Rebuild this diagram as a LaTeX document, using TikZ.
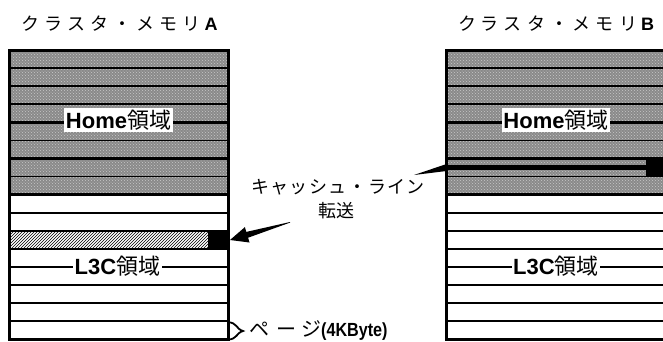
\documentclass[tikz,border=0pt]{standalone}
\usepackage{fontspec}
\setmainfont{Liberation Sans}
\newfontfamily\jp{Noto Sans CJK JP}
\usetikzlibrary{patterns}
\definecolor{shadegray}{RGB}{138,138,138}
\definecolor{dotgray}{RGB}{200,200,200}
\begin{document}
\begin{tikzpicture}[x=1pt,y=-1pt,
  thickrow/.style={line width=2.4pt},
  thinrow/.style={line width=1.6pt},
  frameline/.style={line width=3pt},
  area/.style={fill=white, inner xsep=1.5pt, inner ysep=2pt, font=\fontsize{22}{22}\selectfont},
  titletext/.style={inner sep=0pt, font=\fontsize{18}{18}\selectfont},
  captext/.style={inner sep=0pt, font=\fontsize{18}{18}\selectfont},
  blk/.style={fill=black, inner sep=0pt, anchor=north west}]
\useasboundingbox (0,0) rectangle (663,341);
\def\rh{18.08}
\begin{scope}
\clip (0,0) rectangle (663,341);
% gray home areas
\foreach \bx/\ex in {9.5/228, 446.5/665}{
  \fill[shadegray] (\bx,50) rectangle (\ex,{50+8*\rh});
  \fill[pattern=crosshatch dots, pattern color=dotgray] (\bx,50) rectangle (\ex,{50+8*\rh});
}
% hatched line in A
\fill[pattern=north east lines] (11,232.5) rectangle (208,247.5);
% row lines
\foreach \bx/\ex in {9.5/228, 446.5/665}{
  \foreach \i in {1,...,15}{
    \pgfmathtruncatemacro{\odd}{mod(\i,2)}
    \ifnum\odd=0
      \draw[thickrow] (\bx,{50+\i*\rh}) -- (\ex,{50+\i*\rh});
    \else
      \draw[thinrow] (\bx,{50+\i*\rh}) -- (\ex,{50+\i*\rh});
    \fi
  }
}
% blocks
\node[blk, minimum width=20pt, minimum height=18.1pt] (blkA) at (208,230.8) {};
\draw[line width=5pt] (446.5,167.5) -- (646,167.5);
\node[blk, minimum width=19pt, minimum height=18.1pt] (blkB) at (646,158.5) {};
% frames
\draw[frameline] (9.5,50) rectangle (228,339.5);
\draw[frameline] (446.5,50) rectangle (665,339.5);
\end{scope}
% area labels
\node[area] (homeA) at (118.5,120) {{\bfseries Home}{\jp 領域}};
\node[area] (homeB) at (556,120) {{\bfseries Home}{\jp 領域}};
\node[area] (l3cA) at (117.5,266.5) {{\bfseries L3C}{\jp 領域}};
\node[area] (l3cB) at (556,266.5) {{\bfseries L3C}{\jp 領域}};
% titles
\node[titletext] (titleA) at (119.5,23.5) {{\jp ク\hspace{5pt}ラ\hspace{5pt}ス\hspace{5pt}タ\hspace{5pt}・\hspace{5pt}メ\hspace{5pt}モ\hspace{5pt}リ}\hspace{4pt}{\bfseries A}};
\node[titletext] (titleB) at (556,23.5) {{\jp ク\hspace{5pt}ラ\hspace{5pt}ス\hspace{5pt}タ\hspace{5pt}・\hspace{5pt}メ\hspace{5pt}モ\hspace{5pt}リ}\hspace{4pt}{\bfseries B}};
% caption
\node[captext] (cap1) at (338,187) {\jp キ\hspace{1.5pt}ャ\hspace{1.5pt}ッ\hspace{1.5pt}シ\hspace{1.5pt}ュ\hspace{1.5pt}・\hspace{1.5pt}ラ\hspace{1.5pt}イ\hspace{1.5pt}ン};
\node[captext] (cap2) at (336.5,211) {\jp 転送};
% page label
\draw[line width=1.8pt] (228,322.3) .. controls (237,322.3) and (236,329) .. (243,331)
   .. controls (236,333) and (237,339.5) .. (228,339.5);
\node[inner sep=0pt, anchor=west] (page) at (249,331) {{\fontsize{20}{20}\selectfont\jp ペ\hspace{7pt}ー\hspace{5pt}ジ}\scalebox{0.85}[1]{\fontsize{19}{19}\selectfont\bfseries (4KByte)}};
% arrow: from B's line out to the left (tapered)
\coordinate (bout) at (446.5,167.5);
\fill (446.5,164) -- (446.5,171) -- (414,175) -- cycle;
% arrow into A's block
\coordinate (tipA) at (blkA.east);
\fill (290,222) -- (246.3,231.9) -- (244.9,227.1) -- (230,240) -- (249.5,242.5) -- (248.1,237.7) -- (290,222.6) -- cycle;
\end{tikzpicture}
\end{document}
